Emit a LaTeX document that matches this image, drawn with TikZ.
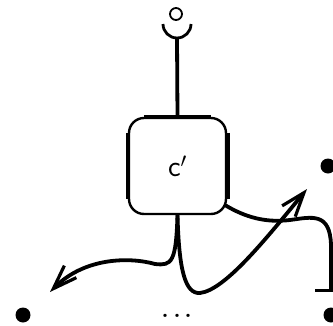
\documentclass[tikz,border=0pt]{standalone}
\usepackage{fontspec}
\usetikzlibrary{arrows.meta}
\newcommand\grand{\fontsize{30}{34}\selectfont}
\newcommand\tresgrand{\fontsize{40}{44}\selectfont}
\begin{document}
\begin{tikzpicture}[x=1pt,y=-1pt]
	% Styles
	\tikzstyle{fil}=[line width=3.8pt]
	\tikzstyle{fleche}=[fil,-{Straight Barb[length=24pt,width=17pt,line width=3.2pt]}]
	\tikzstyle{butee}=[fil,-{Bar[width=32pt,line width=3.4pt]}]
	\tikzstyle{point}=[circle,fill,inner sep=0pt,minimum size=15pt]
	\tikzstyle{anneau}=[circle,draw,line width=1.8pt,inner sep=0pt,minimum size=12pt]
	\tikzstyle{boite}=[draw,line width=2.4pt,rounded corners=15pt,minimum width=97pt,minimum height=96pt]
	\tikzstyle{cote}=[line width=4.6pt]
	\useasboundingbox (0,0) rectangle (333,325);
	% Noeuds
	\node[anneau] (o) at (176,14) {};
	\coordinate (creux) at (177,38);
	\node[boite] (c) at (177.5,166) {\grand\sffamily c$'$};
	\node[point] (g) at (23,315) {};
	\node (pp) at (177,316) {\tresgrand.\kern1.6pt.\kern1.6pt.};
	\node[point] (d) at (331,315) {};
	\node[point] (h) at (328,166) {};
	\coordinate (coin) at ([shift={(-2,-10)}]c.south east);
	\coordinate (fin) at (331,292);
	% Bords epais de la boite
	\draw[cote] ([xshift=16pt]c.north west) -- ([xshift=-16pt]c.north east);
	\draw[cote] ([yshift=-16pt]c.north west) -- ([yshift=16pt]c.south west);
	\draw[cote] ([yshift=-16pt]c.north east) -- ([yshift=16pt]c.south east);
	% Arcs
	\draw[line width=2.8pt] (creux) ++(-14,-14) arc[start angle=180,end angle=0,radius=14];
	\draw[fil] (creux) -- (c.north);
	\draw[fleche] (c.south) .. controls (176,262) and (172,266) .. (155,264)
		.. controls (130,257) and (85,257) .. (50,292);
	\draw[fleche] (c.south) .. controls (179,270) and (185,294) .. (200,293)
		.. controls (225,290) and (265,240) .. (307,189);
	\draw[butee] (coin) .. controls (245,217) and (265,223) .. (290,220)
		.. controls (312,217) and (330,212) .. (331,245) -- (fin);
\end{tikzpicture}
\end{document}
